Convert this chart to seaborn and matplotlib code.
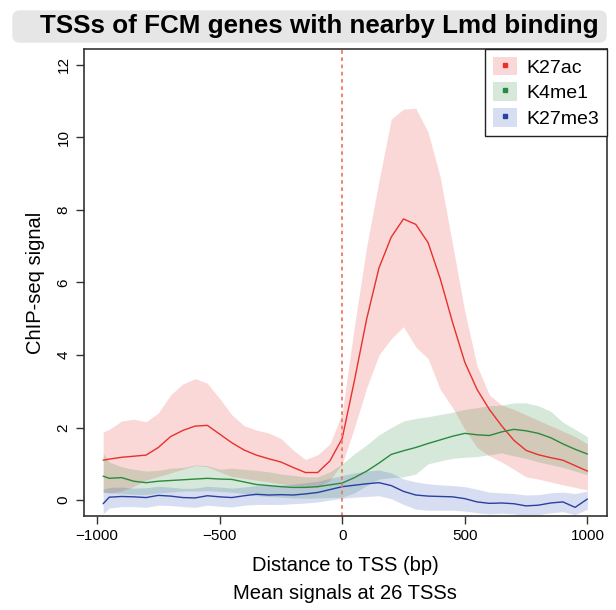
import numpy as np
import pandas as pd
import seaborn as sns
import matplotlib.pyplot as plt
from matplotlib.patches import FancyBboxPatch, Patch
from matplotlib.lines import Line2D

# distance to TSS (bp)
dist = [-975, -950, -900, -850, -800, -750, -700, -650, -600, -550, -500,
        -450, -400, -350, -300, -250, -200, -150, -100, -50, 0,
        50, 100, 150, 200, 250, 300, 350, 400, 450, 500,
        550, 600, 650, 700, 750, 800, 850, 900, 950, 1000]

k27ac_mean = [1.10, 1.13, 1.18, 1.21, 1.24, 1.45, 1.75, 1.92, 2.04, 2.06, 1.82,
              1.58, 1.38, 1.24, 1.14, 1.05, 0.90, 0.76, 0.76, 1.08, 1.70,
              3.30, 5.00, 6.40, 7.25, 7.75, 7.60, 7.10, 6.10, 4.90, 3.80,
              3.05, 2.50, 2.05, 1.65, 1.37, 1.25, 1.17, 1.10, 0.95, 0.80]
k27ac_hi = [1.88, 1.95, 2.18, 2.23, 2.16, 2.40, 2.90, 3.20, 3.35, 3.22, 2.80,
            2.35, 2.05, 1.93, 1.85, 1.70, 1.38, 1.12, 1.25, 1.55, 2.40,
            4.80, 7.00, 8.80, 10.50, 10.78, 10.80, 10.15, 8.90, 7.05, 5.20,
            3.70, 2.90, 2.62, 2.50, 2.35, 2.20, 2.05, 1.90, 1.75, 1.55]
k27ac_lo = [0.22, 0.20, 0.25, 0.38, 0.55, 0.65, 0.75, 0.85, 0.95, 0.92, 0.78,
            0.65, 0.60, 0.55, 0.50, 0.45, 0.40, 0.36, 0.36, 0.55, 1.00,
            2.00, 3.10, 4.00, 4.45, 4.78, 4.22, 3.90, 3.05, 2.55, 1.95,
            1.45, 1.22, 1.05, 0.85, 0.64, 0.58, 0.50, 0.42, 0.35, 0.28]

k4me1_mean = [0.66, 0.60, 0.62, 0.52, 0.48, 0.52, 0.54, 0.56, 0.58, 0.60, 0.58,
              0.57, 0.50, 0.43, 0.40, 0.37, 0.35, 0.35, 0.37, 0.42, 0.47,
              0.62, 0.80, 1.02, 1.26, 1.36, 1.45, 1.56, 1.66, 1.76, 1.84,
              1.80, 1.78, 1.88, 1.95, 1.91, 1.84, 1.72, 1.55, 1.40, 1.27]
k4me1_hi = [1.29, 1.05, 0.92, 0.85, 0.80, 0.82, 0.88, 0.90, 0.97, 0.95, 0.85,
            0.88, 0.85, 0.82, 0.78, 0.72, 0.68, 0.64, 0.64, 0.78, 1.00,
            1.28, 1.52, 1.80, 2.00, 2.18, 2.25, 2.30, 2.36, 2.42, 2.50,
            2.55, 2.60, 2.62, 2.68, 2.68, 2.60, 2.45, 2.15, 1.95, 1.75]
k4me1_lo = [0.22, 0.20, 0.18, 0.16, 0.15, 0.20, 0.22, 0.25, 0.25, 0.26, 0.24,
            0.22, 0.18, 0.12, 0.10, 0.08, 0.06, 0.05, 0.06, 0.07, 0.08,
            0.20, 0.40, 0.58, 0.62, 0.64, 0.72, 1.00, 1.08, 1.15, 1.18,
            1.20, 1.25, 1.30, 1.22, 1.15, 1.05, 0.98, 0.90, 0.80, 0.70]

k27me3_mean = [-0.10, 0.08, 0.10, 0.09, 0.07, 0.13, 0.11, 0.07, 0.06, 0.12, 0.09,
               0.07, 0.12, 0.16, 0.14, 0.15, 0.14, 0.17, 0.21, 0.29, 0.37,
               0.41, 0.45, 0.48, 0.40, 0.24, 0.14, 0.11, 0.10, 0.09, 0.04,
               -0.05, -0.09, -0.08, -0.10, -0.16, -0.14, -0.08, -0.05, -0.20, 0.03]
k27me3_hi = [0.30, 0.35, 0.36, 0.33, 0.34, 0.38, 0.36, 0.32, 0.33, 0.38, 0.36,
             0.33, 0.36, 0.40, 0.40, 0.42, 0.44, 0.48, 0.52, 0.60, 0.68,
             0.75, 0.80, 0.83, 0.75, 0.58, 0.50, 0.45, 0.42, 0.40, 0.37,
             0.30, 0.22, 0.20, 0.18, 0.14, 0.15, 0.20, 0.22, 0.18, 0.25]
k27me3_lo = [-0.38, -0.22, -0.18, -0.18, -0.20, -0.14, -0.15, -0.18, -0.20, -0.14, -0.17,
             -0.19, -0.14, -0.12, -0.12, -0.12, -0.10, -0.08, -0.05, 0.00, 0.05,
             0.08, 0.10, 0.12, 0.04, -0.12, -0.25, -0.28, -0.28, -0.28, -0.30,
             -0.35, -0.38, -0.36, -0.38, -0.42, -0.40, -0.35, -0.32, -0.40, -0.25]

marks = ["K27ac", "K4me1", "K27me3"]
line_colors = {"K27ac": "#e8302c", "K4me1": "#2a8a3c", "K27me3": "#2b3fa0"}
band_colors = {"K27ac": "#e8302c", "K4me1": "#2a8a3c", "K27me3": "#3050b8"}
bands = {
    "K27ac": (k27ac_lo, k27ac_hi),
    "K4me1": (k4me1_lo, k4me1_hi),
    "K27me3": (k27me3_lo, k27me3_hi),
}

df = pd.concat([
    pd.DataFrame({"dist": dist, "signal": k27ac_mean, "mark": "K27ac"}),
    pd.DataFrame({"dist": dist, "signal": k4me1_mean, "mark": "K4me1"}),
    pd.DataFrame({"dist": dist, "signal": k27me3_mean, "mark": "K27me3"}),
])

sns.set_style("ticks")
plt.rcParams["font.family"] = ["Liberation Sans", "DejaVu Sans"]
plt.rcParams["text.color"] = "black"
plt.rcParams["axes.labelcolor"] = "black"
plt.rcParams["xtick.color"] = "black"
plt.rcParams["ytick.color"] = "black"

fig = plt.figure(figsize=(6.16, 6.10), dpi=100)
ax = fig.add_axes([0.136, 0.154, 0.849, 0.766])

for m in marks:
    lo, hi = bands[m]
    ax.fill_between(dist, lo, hi, color=band_colors[m], alpha=0.19, lw=0)

sns.lineplot(data=df, x="dist", y="signal", hue="mark", palette=line_colors,
             lw=1.0, ax=ax, legend=False)

ax.axvline(0, color="#f07868", ls=(0, (2, 2)), lw=1.3)

ax.set_xlim(-1054, 1079)
ax.set_ylim(-0.44, 12.44)
ax.set_xticks([-1000, -500, 0, 500, 1000])
ax.set_xticklabels(["\u22121000", "\u2212500", "0", "500", "1000"])
ax.set_yticks([0, 2, 4, 6, 8, 10, 12])
ax.tick_params(axis="both", labelsize=11, length=6, width=1, color="#333333")
plt.setp(ax.get_yticklabels(), rotation=90, va="center")
for s in ax.spines.values():
    s.set_visible(True)
    s.set_color("#333333")
    s.set_linewidth(1.2)

ax.set_xlabel("Distance to TSS (bp)\nMean signals at 26 TSSs", fontsize=14.5,
              linespacing=1.6, labelpad=9)
ax.set_ylabel("ChIP-seq signal", fontsize=14.5, labelpad=8)

handles = []
for m in marks:
    handles.append((Patch(facecolor=band_colors[m], alpha=0.19, edgecolor="none"),
                    Line2D([], [], ls="none", marker="s", ms=3,
                           color=line_colors[m])))
leg = ax.legend(handles, marks, loc="upper right", fontsize=14,
                frameon=True, fancybox=False, borderaxespad=0,
                handlelength=1.25, handleheight=1.1, handletextpad=0.45,
                labelspacing=0.3, borderpad=0.4)
leg.get_frame().set_edgecolor("#222222")
leg.get_frame().set_linewidth(1.0)
leg.get_frame().set_alpha(1)

# title in grey rounded box
box = FancyBboxPatch((0.02, 0.93), 0.965, 0.053, transform=fig.transFigure,
                     boxstyle="round,pad=0,rounding_size=0.012",
                     facecolor="#e6e6e6", edgecolor="none")
fig.patches.append(box)
fig.text(0.518, 0.957, "TSSs of FCM genes with nearby Lmd binding",
         ha="center", va="center", fontsize=18.7, fontweight="bold")

fig.savefig("out.png", dpi=100)
